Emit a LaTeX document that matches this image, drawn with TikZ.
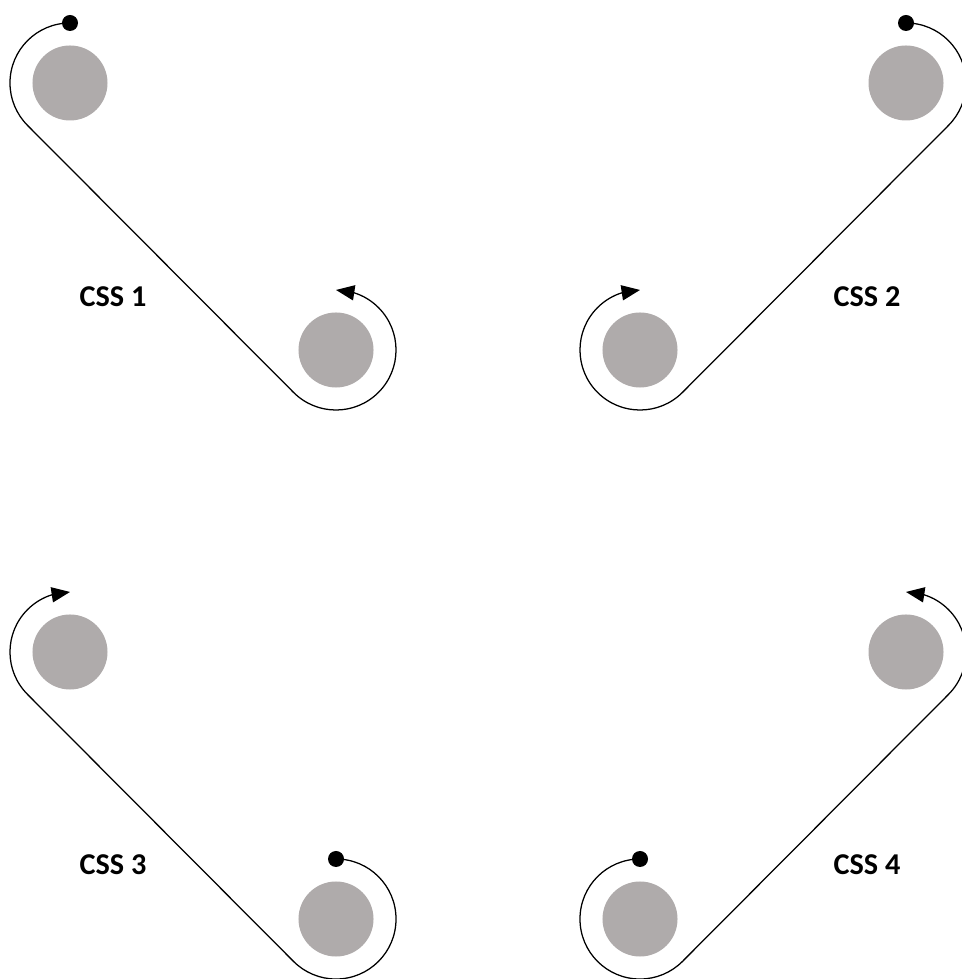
\documentclass[tikz,border=0pt]{standalone}
\usepackage{fontspec}
\setmainfont{Carlito}
\usepackage{tikz}
\usetikzlibrary{arrows.meta,bending,calc,positioning}
\definecolor{discgray}{RGB}{175,171,171}

\begin{document}
\begin{tikzpicture}[x=0.025cm,y=0.025cm,
disc/.style={shape=circle, fill=discgray, minimum size=1.875cm, inner sep=0pt},
startdot/.style={shape=circle, fill=black, minimum size=0.4cm, inner sep=0pt},
track/.style={line width=0.9pt, -{Triangle[length=0.46cm,width=0.38cm]}},
csslabel/.style={font=\fontsize{21.5}{25}\selectfont\bfseries}]
\useasboundingbox (0,0) rectangle (961,979);
% CSS 1
\node[disc] (1V0) at (70,896) {};
\node[disc] (1V1) at (336,629) {};
\node[startdot] (1S) at (70,956) {};
\draw[track] (1S.center) arc[start angle=90, end angle=225, radius=1.5cm]
  -- ($(1V1)+(225:1.5cm)$) arc[start angle=225, end angle=450, radius=1.5cm];
\node[csslabel] (1L) at (113,682) {CSS 1};
% CSS 2
\node[disc] (2V0) at (906,896) {};
\node[disc] (2V1) at (640,629) {};
\node[startdot] (2S) at (906,956) {};
\draw[track] (2S.center) arc[start angle=90, end angle=-45, radius=1.5cm]
  -- ($(2V1)+(-45:1.5cm)$) arc[start angle=-45, end angle=-270, radius=1.5cm];
\node[csslabel] (2L) at (867,682) {CSS 2};
% CSS 3
\node[disc] (3V0) at (70,327) {};
\node[disc] (3V1) at (336,60) {};
\node[startdot] (3S) at (336,120) {};
\draw[track] (3S.center) arc[start angle=90, end angle=-135, radius=1.5cm]
  -- ($(3V0)+(225:1.5cm)$) arc[start angle=225, end angle=90, radius=1.5cm];
\node[csslabel] (3L) at (113,114) {CSS 3};
% CSS 4
\node[disc] (4V0) at (906,327) {};
\node[disc] (4V1) at (640,60) {};
\node[startdot] (4S) at (640,120) {};
\draw[track] (4S.center) arc[start angle=90, end angle=315, radius=1.5cm]
  -- ($(4V0)+(-45:1.5cm)$) arc[start angle=-45, end angle=90, radius=1.5cm];
\node[csslabel] (4L) at (867,114) {CSS 4};
\end{tikzpicture}
\end{document}
